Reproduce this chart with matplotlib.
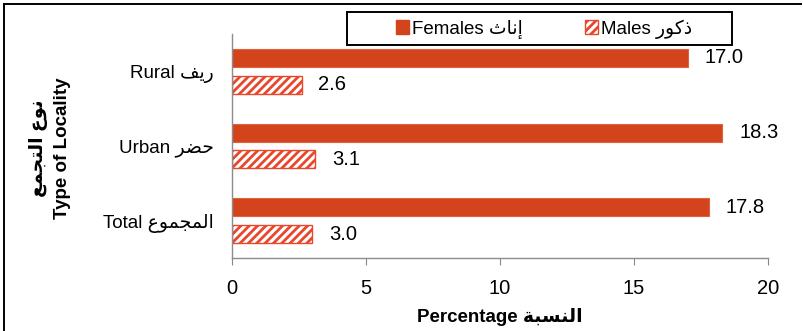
import matplotlib
matplotlib.use("Agg")
import matplotlib.pyplot as plt
from matplotlib.lines import Line2D
from matplotlib.patches import Patch, Rectangle

# ---------------- data ----------------
categories_en = ["Rural", "Urban", "Total"]
categories_ar = ["ريف", "حضر", "المجموع"]
females = [17.0, 18.3, 17.8]
males = [2.6, 3.1, 3.0]
series_en = ["Females", "Males"]
series_ar = ["إناث", "ذكور"]
xticks = [0, 5, 10, 15, 20]
xlabel_en, xlabel_ar = "Percentage", "النسبة"
ylabel_en, ylabel_ar = "Type of Locality", "نوع التجمع"

# ---------------- simple Arabic shaping (presentation forms + visual order) ----------------
FORMS = {  # isolated, final, initial, medial
    "\u0627": ("\uFE8D", "\uFE8E", None, None),
    "\u0625": ("\uFE87", "\uFE88", None, None),
    "\u0628": ("\uFE8F", "\uFE90", "\uFE91", "\uFE92"),
    "\u0629": ("\uFE93", "\uFE94", None, None),
    "\u062A": ("\uFE95", "\uFE96", "\uFE97", "\uFE98"),
    "\u062B": ("\uFE99", "\uFE9A", "\uFE9B", "\uFE9C"),
    "\u062C": ("\uFE9D", "\uFE9E", "\uFE9F", "\uFEA0"),
    "\u062D": ("\uFEA1", "\uFEA2", "\uFEA3", "\uFEA4"),
    "\u0630": ("\uFEAB", "\uFEAC", None, None),
    "\u0631": ("\uFEAD", "\uFEAE", None, None),
    "\u0633": ("\uFEB1", "\uFEB2", "\uFEB3", "\uFEB4"),
    "\u0636": ("\uFEBD", "\uFEBE", "\uFEBF", "\uFEC0"),
    "\u0639": ("\uFEC9", "\uFECA", "\uFECB", "\uFECC"),
    "\u0641": ("\uFED1", "\uFED2", "\uFED3", "\uFED4"),
    "\u0643": ("\uFED9", "\uFEDA", "\uFEDB", "\uFEDC"),
    "\u0644": ("\uFEDD", "\uFEDE", "\uFEDF", "\uFEE0"),
    "\u0645": ("\uFEE1", "\uFEE2", "\uFEE3", "\uFEE4"),
    "\u0646": ("\uFEE5", "\uFEE6", "\uFEE7", "\uFEE8"),
    "\u0648": ("\uFEED", "\uFEEE", None, None),
    "\u064A": ("\uFEF1", "\uFEF2", "\uFEF3", "\uFEF4"),
}


def dual(c):
    return c in FORMS and FORMS[c][2] is not None


def shape(word):
    out = []
    for i, c in enumerate(word):
        if c not in FORMS:
            out.append(c)
            continue
        prev = word[i - 1] if i > 0 else ""
        nxt = word[i + 1] if i + 1 < len(word) else ""
        jp = dual(prev)
        jn = dual(c) and nxt in FORMS
        iso, fin, ini, med = FORMS[c]
        if jp and jn:
            out.append(med)
        elif jp:
            out.append(fin)
        elif jn:
            out.append(ini)
        else:
            out.append(iso)
    return "".join(out)[::-1]


FAM = ["Liberation Sans", "DejaVu Sans"]
plt.rcParams["font.family"] = FAM
plt.rcParams["hatch.linewidth"] = 2.0

FEM_C = "#D3441C"
MALE_C = "#E8472B"

fig = plt.figure(figsize=(8.04, 3.31), dpi=100)
W, H = 804, 331
ax = fig.add_axes([232 / W, 1 - 258 / H, (768 - 232) / W, (258 - 34) / H])

n = len(categories_en)
ypos = list(range(n))
off = 0.18
h = 0.24
fb = ax.barh([y - off for y in ypos], females, height=h, color=FEM_C,
             edgecolor="#E0613C", linewidth=0.8, label=f"{series_en[0]} {shape(series_ar[0])}")
mb = ax.barh([y + off for y in ypos], males, height=h, color="white",
             edgecolor=MALE_C, hatch="////", linewidth=1.0,
             label=f"{series_en[1]} {shape(series_ar[1])}")

for bars, vals in ((fb, females), (mb, males)):
    for rect, v in zip(bars, vals):
        ax.annotate(f"{v:.1f}", (v, rect.get_y() + rect.get_height() / 2),
                    xytext=(12, 0), textcoords="offset points",
                    ha="left", va="center", fontsize=14.5)

ax.set_xlim(0, 20)
ax.set_ylim(n - 0.5, -0.5)
ax.set_xticks(xticks)
ax.set_xticklabels([str(t) for t in xticks], fontsize=14.5)
ax.set_yticks(ypos)
ax.set_yticklabels([f"{e} {shape(a)}" for e, a in zip(categories_en, categories_ar)], fontsize=13.5)
ax.tick_params(axis="y", length=0, pad=13)
ax.tick_params(axis="x", length=5, color="#888888", pad=10)
for s in ("top", "right"):
    ax.spines[s].set_visible(False)
for s in ("left", "bottom"):
    ax.spines[s].set_color("#8c8c8c")
    ax.spines[s].set_linewidth(1.0)

ax.set_xlabel(f"{xlabel_en} {shape(xlabel_ar)}", fontsize=13.5, fontweight="bold", labelpad=7)

fig.text(50 / W, 1 - 148 / H, f"{shape(ylabel_ar)}\n{ylabel_en}", rotation=90,
         ha="center", va="center", fontsize=13.5, fontweight="bold",
         linespacing=1.4, multialignment="center")

handles = [Patch(facecolor=FEM_C, edgecolor=FEM_C),
           Patch(facecolor="white", edgecolor=MALE_C, hatch="////")]
leg = fig.legend(handles, [fb.get_label(), mb.get_label()], ncol=2,
                 loc="center", bbox_to_anchor=(544 / W, 1 - 29 / H),
                 fontsize=13.5, frameon=False, handlelength=0.7,
                 handleheight=0.7, handletextpad=0.15, columnspacing=3.3)
fig.add_artist(Rectangle((347 / W, 1 - 45 / H), (732 - 347) / W, 33 / H,
                         transform=fig.transFigure, fill=False,
                         edgecolor="black", linewidth=1.4))

# outer frame
fig.add_artist(Line2D([4 / W, 801 / W], [1 - 4 / H, 1 - 4 / H], color="black", lw=1.4,
                      transform=fig.transFigure))
fig.add_artist(Line2D([4 / W, 4 / W], [1 - 4 / H, 0], color="black", lw=1.4,
                      transform=fig.transFigure))

fig.savefig("out.png", dpi=100)
